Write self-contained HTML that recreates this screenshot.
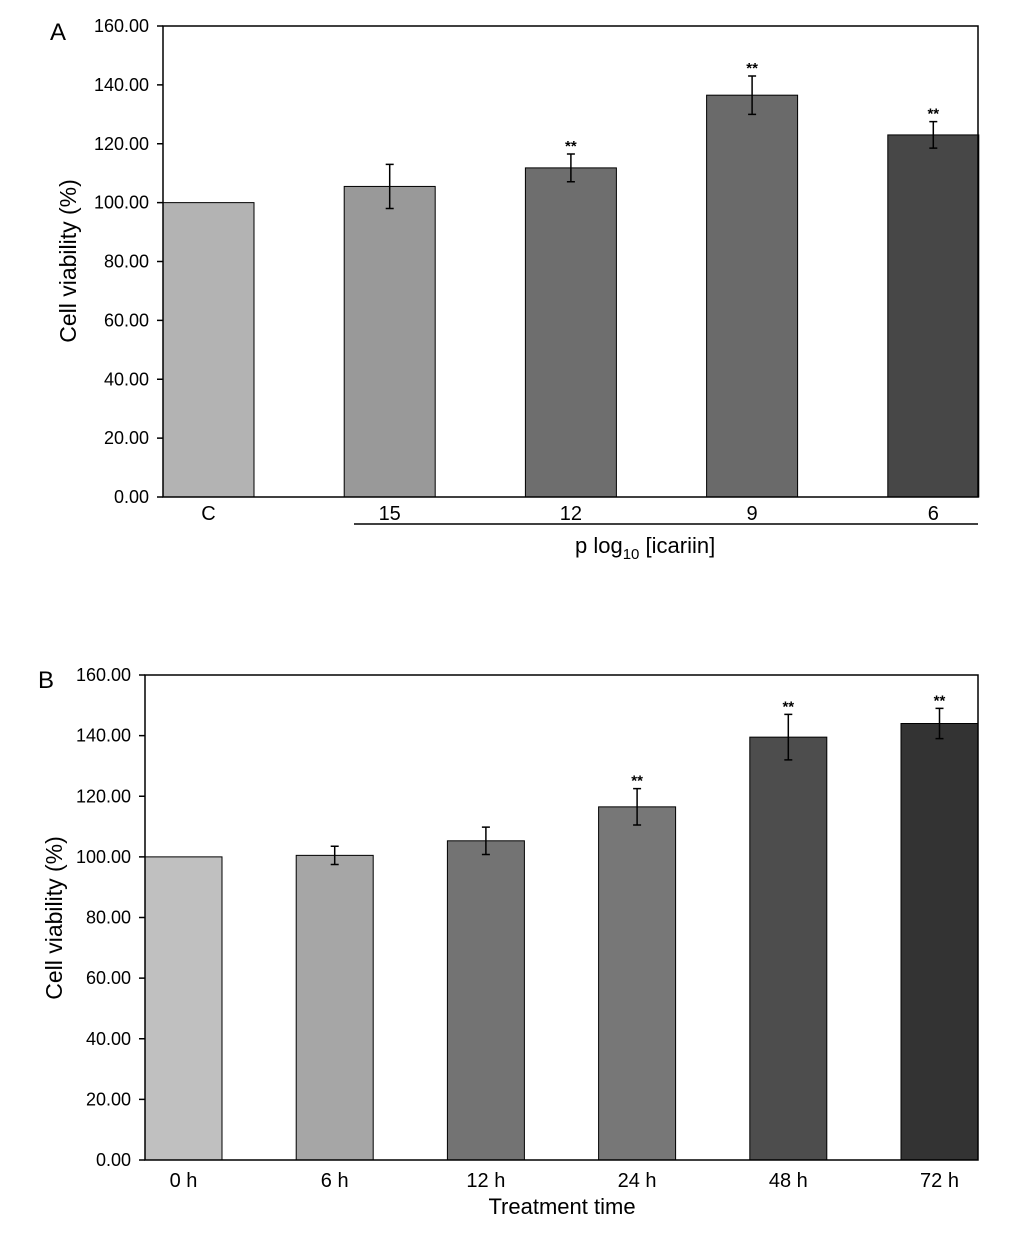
<!DOCTYPE html>
<html><head><meta charset="utf-8"><style>
body{margin:0;background:#fff;width:1033px;height:1240px;overflow:hidden}
svg{font-family:"Liberation Sans",sans-serif}
</style></head><body>
<svg id="s" width="1033" height="1240" viewBox="0 0 1033 1240">
<text x="50" y="40" font-size="24">A</text>
<text x="38" y="688" font-size="24">B</text>
<text transform="translate(76,261) rotate(-90)" text-anchor="middle" font-size="23">Cell viability (%)</text>
<text transform="translate(62,918) rotate(-90)" text-anchor="middle" font-size="23">Cell viability (%)</text>
<line x1="354" y1="524" x2="978" y2="524" stroke="#000" stroke-width="1.5"/>
<text x="575" y="553" font-size="22" text-anchor="start">p log<tspan font-size="15" dy="6">10</tspan><tspan dy="-6"> [icariin]</tspan></text>
<text x="562" y="1214" font-size="22" text-anchor="middle">Treatment time</text>
</svg>
<script>
const catsA=["C","15","12","9","6"];
const valsA=[100,105.5,111.8,136.5,123];
const errsA=[0,7.5,4.7,6.5,4.5];
const sigA=[false,false,true,true,true];
const colsA=["#b3b3b3","#999999","#6e6e6e","#6a6a6a","#474747"];
const catsB=["0 h","6 h","12 h","24 h","48 h","72 h"];
const valsB=[100,100.5,105.3,116.5,139.5,144];
const errsB=[0,3,4.5,6,7.5,5];
const sigB=[false,false,false,true,true,true];
const colsB=["#c0c0c0","#a6a6a6","#737373","#777777","#4d4d4d","#333333"];
const ticks=[0,20,40,60,80,100,120,140,160];
const tickLabels=["0.00","20.00","40.00","60.00","80.00","100.00","120.00","140.00","160.00"];
const svg=document.getElementById('s');
const NS="http://www.w3.org/2000/svg";
function mk(t,a){const e=document.createElementNS(NS,t);for(const k in a)e.setAttribute(k,a[k]);svg.appendChild(e);return e;}
function chart(p,cats,vals,errs,sig,cols,L,R,T,B,bw,step,lblY){
 const y=v=>B-(v/160)*(B-T);
 ticks.forEach((t,i)=>{
  const l=mk('line',{x1:L-6,x2:L,y1:y(t),y2:y(t),stroke:'#000','stroke-width':1.5});
  
  
  const tx=mk('text',{x:L-14,y:y(t)+6,'font-size':18,'text-anchor':'end'});tx.textContent=tickLabels[i];
  
  
 });
 cats.forEach((c,i)=>{
  const x0=L+i*step;
  const r=mk('rect',{x:x0,y:y(vals[i]),width:bw,height:B-y(vals[i]),fill:cols[i],stroke:'#000','stroke-width':1});
  
  
  const cx=x0+bw/2;
  if(errs[i]>0){
   const e=mk('path',{d:`M${cx},${y(vals[i]+errs[i])}V${y(vals[i]-errs[i])}M${cx-4},${y(vals[i]+errs[i])}h8M${cx-4},${y(vals[i]-errs[i])}h8`,stroke:'#000','stroke-width':1.5,fill:'none'});
   
   
  }
  if(sig[i]){
   const s=mk('text',{x:cx,y:y(vals[i]+errs[i])-3,'font-size':15,'font-weight':'bold','text-anchor':'middle'});s.textContent='**';
   
   
  }
  const t=mk('text',{x:cx,y:lblY,'font-size':20,'text-anchor':'middle'});t.textContent=c;
  
  
 });
 const f=mk('rect',{x:L,y:T,width:R-L,height:B-T,fill:'none',stroke:'#000','stroke-width':1.5});
 
 
}
chart('a',catsA,valsA,errsA,sigA,colsA,163,978,26,497,91,181.2,520);
chart('b',catsB,valsB,errsB,sigB,colsB,145,978,675,1160,77,151.2,1187);
</script>
</body></html>
